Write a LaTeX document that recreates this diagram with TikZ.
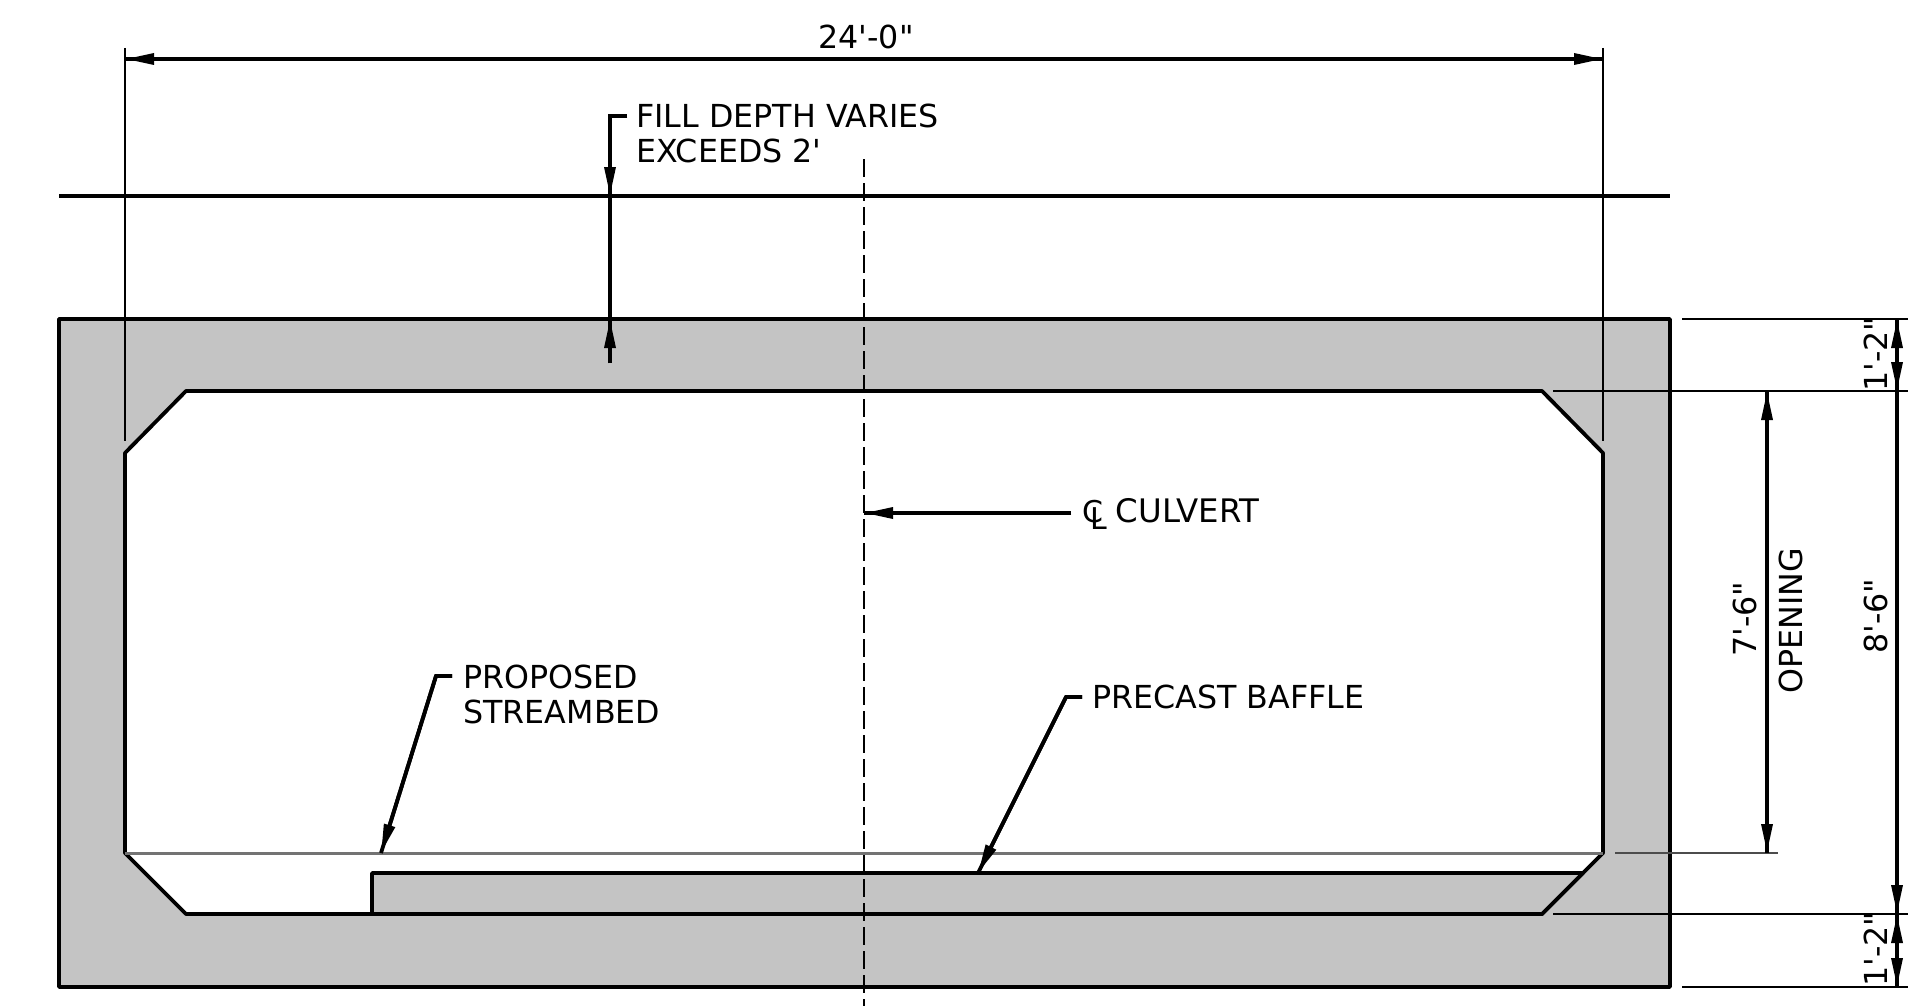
\documentclass[tikz,border=0pt]{standalone}
\usepackage{fontspec}
\newfontfamily\drawfont{DejaVu Sans}
\usetikzlibrary{arrows.meta,positioning}
\definecolor{concrete}{RGB}{196,196,196}
\newcommand{\clmark}{\makebox[16.7pt][l]{\rlap{\fontsize{15}{15}\selectfont C}\kern4pt\raisebox{-3.7pt}{\fontsize{15}{15}\selectfont L}}}
\tikzset{
  heavy/.style={line width=1.9pt,line join=bevel},
  thin line/.style={line width=.6pt},
  tipped/.style={heavy,postaction={draw,line join=miter,{Triangle[length=14.5pt,width=5.4pt]}-{Triangle[length=14.5pt,width=5.4pt]}}},
  tipend/.style={heavy,postaction={draw,line join=miter,-{Triangle[length=14.5pt,width=5.4pt]}}},
  note/.style={font=\drawfont\fontsize{15.85}{17.5}\selectfont,inner sep=0pt,align=left},
}
\begin{document}
\begin{tikzpicture}[x=.5pt,y=-.5pt]
        \useasboundingbox (0,0) rectangle (1921,1006);
        \def\wallL{125}
        \def\wallR{1603}
        \def\roof{391}
        \def\floor{914}
        \def\spring{853}

        % concrete box
        \draw[heavy,fill=concrete] (59,319) rectangle (1670,987);
        \draw[heavy,fill=white] (186,\roof) -- (1542,\roof) -- (\wallR,453) -- (\wallR,\spring)
          -- (1542,\floor) -- (186,\floor) -- (\wallL,\spring) -- (\wallL,453) -- cycle;
        \draw[heavy,fill=concrete] (372,\floor) -- (372,873) -- (1583,873) -- (1542,\floor) -- cycle;
        \draw[line width=1.5pt,black!55] (\wallL,\spring) -- (\wallR,\spring);
        \draw[heavy] (59,196) -- (1670,196);

        \draw[thin line,dash pattern=on 9pt off 3pt] (864,159) -- (864,1006);

        % extension lines
        \foreach \xa/\xb/\yy in {1553/1908/\roof,1553/1908/\floor,1682/1908/319,1682/1908/987}
          \draw[thin line] (\xa,\yy) -- (\xb,\yy);
        \draw[line width=.9pt,black!70] (1615,\spring) -- (1778,\spring);
        \foreach \xx in {\wallL,\wallR}
          \draw[thin line] (\xx,48) -- (\xx,441);

        % dimensions
        \coordinate (spanL) at (\wallL,59);
        \coordinate (spanR) at (\wallR,59);
        \draw[tipped] (spanL) -- (spanR);
        \node[note,anchor=base] (span) at (866,49) {24'-0"};

        \coordinate (openT) at (1767,\roof);
        \coordinate (openB) at (1767,\spring);
        \draw[tipped] (openT) -- (openB);
        \node[note,anchor=base,rotate=90] (opendim) at (1756,619) {7'-6"};
        \node[note,anchor=base,rotate=90] (opening) at (1802,621) {OPENING};

        \coordinate (rsT) at (1897,319);
        \coordinate (rsM) at (1897,\roof);
        \coordinate (rsF) at (1897,\floor);
        \coordinate (rsB) at (1897,987);
        \draw[tipped] (rsT) -- (rsF);
        \draw[tipend] (rsT) -- (rsM);
        \draw[tipped] (rsF) -- (rsB);
        \node[note,anchor=base,rotate=90] (roofdim) at (1887,354) {1'-2"};
        \node[note,anchor=base,rotate=90] (risedim) at (1887,616) {8'-6"};
        \node[note,anchor=base,rotate=90] (floordim) at (1887,949) {1'-2"};

        % notes
        \node[note,anchor=west] (fill) at (636,133.5) {FILL DEPTH VARIES\\EXCEEDS 2'};
        \coordinate (fillA) at (627,116);
        \coordinate (fillB) at (610,116);
        \coordinate (fillC) at (610,196);
        \coordinate (fillD) at (610,319);
        \coordinate (fillE) at (610,363);
        \draw[tipend] (fillA) -- (fillB) -- (fillC);
        \draw[heavy] (fillC) -- (fillD);
        \draw[tipend] (fillE) -- (fillD);

        \node[note,anchor=base west,font=\drawfont\fontsize{16.2}{17.5}\selectfont] (culvert) at (1082,522) {\clmark CULVERT};
        \coordinate (cline) at (864,513);
        \coordinate (culvertA) at (1071,513);
        \draw[tipend] (culvertA) -- (cline);

        \node[note,anchor=west] (bed) at (463,694.5) {PROPOSED\\STREAMBED};
        \coordinate (bedA) at (452,676);
        \coordinate (bedB) at (436,676);
        \coordinate (bedC) at (381,853);
        \draw[tipend] (bedA) -- (bedB) -- (bedC);

        \node[note,anchor=west] (baffle) at (1092,697) {PRECAST BAFFLE};
        \coordinate (baffleA) at (1082,697);
        \coordinate (baffleB) at (1066,697);
        \coordinate (baffleC) at (978,873);
        \draw[tipend] (baffleA) -- (baffleB) -- (baffleC);
\end{tikzpicture}
\end{document}
